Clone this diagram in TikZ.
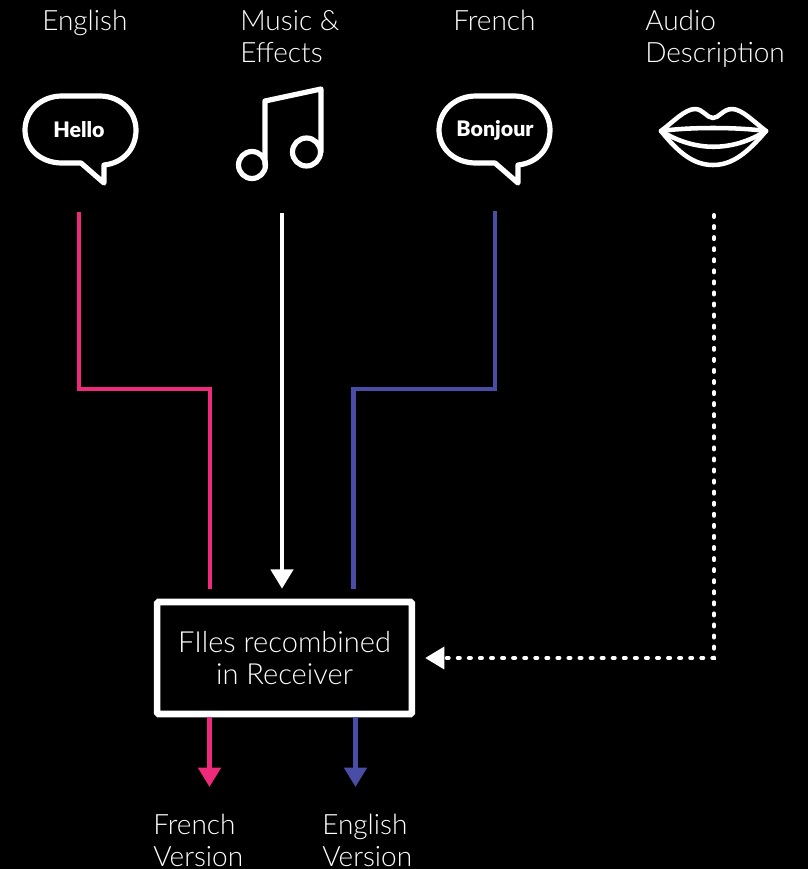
\documentclass[tikz,border=0pt]{standalone}
\usepackage{fontspec}
\setmainfont{Lato Light}[BoldFont=Lato Black]
\usetikzlibrary{positioning, arrows.meta}

\definecolor{pinkline}{HTML}{EE2A7B}
\definecolor{blueline}{HTML}{4A4DA6}

\begin{document}
\begin{tikzpicture}[x=0.75pt,y=-0.75pt,>={Triangle[width=16.5pt,length=14.5pt]}]
            \tikzset{title/.style={white,font=\fontsize{21}{24}\selectfont,align=left,inner sep=0pt,anchor=base west}}
            \tikzset{word/.style={white,font=\fontsize{16}{18}\selectfont\bfseries,inner sep=0pt}}
            \tikzset{icon/.style={white,line width=3.9pt,line join=round,line cap=round}}
            \tikzset{feed/.style={line width=3.3pt}}
            \tikzset{pics/bubble/.style={code={
                \draw[icon] (25,-35) .. controls (25,-16) and (41,-2) .. (62,-2) -- (81,-2) -- (104,18) -- (104,0)
                    .. controls (123,-2) and (136,-16) .. (136,-35) .. controls (136,-54) and (120,-69) .. (100,-69)
                    -- (62,-69) .. controls (41,-69) and (25,-54) .. (25,-35) -- cycle;
            }}}

            \path[use as bounding box,fill=black] (0,0) rectangle (808,869);

            % labels on top
            \node[title] (english) at (42,30) {English};
            \node[title] (music) at (240,62) {Music \&\\Effects};
            \node[title] (french) at (453,30) {French};
            \node[title] (audio) at (645,62) {Audio\\Description};

            % icons
            \pic at (0,165) {bubble};
            \pic at (414,165) {bubble};
            \node[word] (hello) at (79,130) {Hello};
            \node[word] (bonjour) at (495,130) {Bonjour};

            \draw[icon] (265,165) -- (265,101) -- (321,89) -- (321,152);
            \draw[icon] (252,165) circle (13.5);
            \draw[icon] (306.5,152) circle (14);

            \draw[icon,line width=3.4pt] (661,131) .. controls (673,122) and (685,109) .. (695,109)
                .. controls (703,109) and (707,118) .. (713,118) .. controls (719,118) and (723,109) .. (732,109)
                .. controls (742,109) and (754,122) .. (766,131)
                .. controls (748,152) and (733,165) .. (713,165) .. controls (693,165) and (678,152) .. (661,131) -- cycle;
            \draw[icon,line width=3.4pt] (661,131) .. controls (690,127) and (736,127) .. (766,131);
            \draw[icon,line width=3.4pt] (661,131) .. controls (695,152) and (732,152) .. (766,131);

            % receiver box
            \node[draw=white,line width=4.9pt,rounded corners=1pt,minimum width=191pt,minimum height=84pt,
                inner sep=0pt,white,align=center,font=\fontsize{21.8}{24}\selectfont] (receiver) at (284.5,658) {FIles recombined\\in Receiver};

            \coordinate (englishout) at (79,212);
            \coordinate (musicout) at (282,213);
            \coordinate (frenchout) at (495,211);
            \coordinate (audioout) at (714,215);
            \coordinate (pinkturn) at (210,389);
            \coordinate (blueturn) at (353.5,389);
            \coordinate (frenchtip) at (209.5,787);
            \coordinate (englishtip) at (355.5,787);

            \draw[feed,pinkline,shorten >=7.5pt] (englishout) |- (pinkturn) -- (pinkturn |- receiver.north);
            \draw[feed,blueline,shorten >=7.5pt] (frenchout) |- (blueturn) -- (blueturn |- receiver.north);
            \draw[->,feed,white,shorten >=7.5pt] (musicout) -- (musicout |- receiver.north);
            \draw[->,white,line width=3pt,dash pattern=on 1.5pt off 6.8pt,line cap=round,shorten >=7.5pt] (audioout) |- (receiver.east);

            \draw[->,feed,pinkline,line width=3.5pt] (frenchtip |- receiver.south) -- (frenchtip);
            \draw[->,feed,blueline,line width=3.5pt] (englishtip |- receiver.south) -- (englishtip);

            \node[title] (frenchver) at (153,866) {French\\Version};
            \node[title] (englishver) at (322,866) {English\\Version};
\end{tikzpicture}
\end{document}
